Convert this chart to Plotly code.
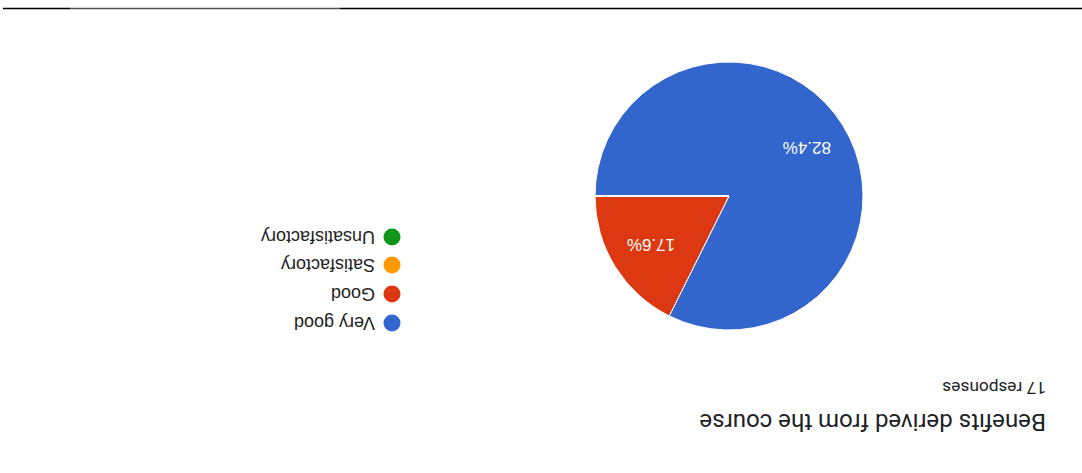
import math
import plotly.graph_objects as go

# ---- data ----
categories = ["Very good", "Good", "Satisfactory", "Unsatisfactory"]
counts = [14, 3, 0, 0]
colors = ["#3366cc", "#dc3912", "#ff9900", "#109618"]
title_text = "Benefits derived from the course"
responses_text = "17 responses"

W, H = 1082, 473
CX, CY, R = 729, 196, 134          # pie centre / radius in pixels
START = 270                        # first slice starts at 9 o'clock, clockwise

fig = go.Figure()

fig.add_trace(go.Pie(
    labels=categories, values=counts, sort=False, direction="clockwise",
    rotation=START, marker=dict(colors=colors, line=dict(color="white", width=1)),
    textinfo="none", hoverinfo="label+percent", showlegend=False,
    domain=dict(x=[(CX - R) / W, (CX + R) / W], y=[(H - CY - R) / H, (H - CY + R) / H]),
))

def px(x, y):
    return x / W, 1 - y / H

annotations = []
total = sum(counts)
acc = 0
for c, v in zip(categories, counts):
    if v == 0:
        continue
    frac = v / total
    mid = math.radians(START + 360 * (acc + frac / 2))
    acc += frac
    lx = CX + 0.68 * R * math.sin(mid)
    ly = CY - 0.68 * R * math.cos(mid)
    xp, yp = px(lx, ly)
    annotations.append(dict(x=xp, y=yp, xref="paper", yref="paper", text=f"{frac*100:.1f}%",
                            showarrow=False, textangle=180, xanchor="center", yanchor="middle",
                            font=dict(family="Liberation Sans, Arial", size=17, color="white")))

# legend (drawn rotated 180°)
leg_y = [323, 294, 265, 237]
leg_dot_x = 392
fig.add_trace(go.Scatter(
    x=[leg_dot_x] * len(categories), y=leg_y, mode="markers",
    marker=dict(size=17, color=colors), hoverinfo="skip", showlegend=False,
    xaxis="x", yaxis="y"))
for c, y in zip(categories, leg_y):
    xp, yp = px(377, y)
    annotations.append(dict(x=xp, y=yp, xref="paper", yref="paper", text=c, showarrow=False,
                            textangle=180, xanchor="right", yanchor="middle",
                            font=dict(family="Liberation Sans, Arial", size=18, color="#222222")))

# title and responses
xp, yp = px(1048, 422)
annotations.append(dict(x=xp, y=yp, xref="paper", yref="paper", text=title_text, showarrow=False,
                        textangle=180, xanchor="right", yanchor="middle",
                        font=dict(family="Roboto, Arial", size=24, color="#202124")))
xp, yp = px(1048, 388)
annotations.append(dict(x=xp, y=yp, xref="paper", yref="paper", text=responses_text, showarrow=False,
                        textangle=180, xanchor="right", yanchor="middle",
                        font=dict(family="Roboto, Arial", size=17.3, color="#202124")))

LY = 1 - 8.5 / H
shapes = [
    dict(type="line", xref="paper", yref="paper", x0=3 / W, x1=70 / W, y0=LY, y1=LY,
         line=dict(color="#000000", width=1.5)),
    dict(type="line", xref="paper", yref="paper", x0=70 / W, x1=340 / W, y0=LY, y1=LY,
         line=dict(color="#555555", width=1.5)),
    dict(type="line", xref="paper", yref="paper", x0=340 / W, x1=1, y0=LY, y1=LY,
         line=dict(color="#000000", width=1.5)),
]

fig.update_layout(
    width=W, height=H, margin=dict(l=0, r=0, t=0, b=0),
    paper_bgcolor="white", plot_bgcolor="white",
    xaxis=dict(range=[0, W], visible=False, domain=[0, 1], fixedrange=True),
    yaxis=dict(range=[H, 0], visible=False, domain=[0, 1], fixedrange=True),
    annotations=annotations, shapes=shapes, showlegend=False,
)

fig.write_html("out.html", config={"displayModeBar": False},
               post_script="document.body.style.margin='0';document.body.style.overflow='hidden';")
